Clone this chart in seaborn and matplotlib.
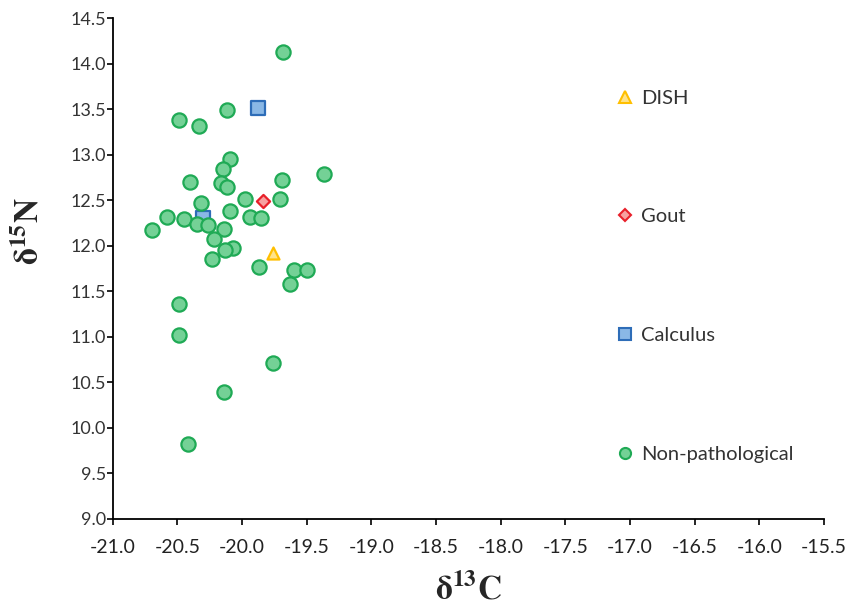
import matplotlib
matplotlib.use("Agg")
import matplotlib.pyplot as plt
import seaborn as sns
import pandas as pd
from matplotlib.ticker import FormatStrFormatter, MultipleLocator

# Values (d13C, d15N)
nonpath_c = [-19.68, -20.12, -20.49, -20.33, -20.09, -20.15, -20.40, -20.16, -20.12,
             -19.69, -19.37, -19.71, -19.98, -20.32, -20.09, -19.94, -19.85, -20.58,
             -20.45, -20.35, -20.26, -20.14, -20.70, -20.22, -20.07, -20.13, -20.23,
             -19.87, -19.60, -19.50, -19.63, -20.49, -20.49, -19.76, -20.14, -20.42]
nonpath_n = [14.13, 13.49, 13.38, 13.32, 12.95, 12.84, 12.70, 12.69, 12.65,
             12.72, 12.79, 12.51, 12.51, 12.47, 12.38, 12.32, 12.30, 12.32,
             12.29, 12.24, 12.23, 12.19, 12.17, 12.08, 11.98, 11.95, 11.85,
             11.77, 11.73, 11.73, 11.58, 11.36, 11.02, 10.71, 10.39, 9.82]
calculus_c = [-19.88, -20.30]
calculus_n = [13.51, 12.30]
gout_c = [-19.84]
gout_n = [12.49]
dish_c = [-19.76]
dish_n = [11.92]

groups = ["Calculus", "Non-pathological", "Gout", "DISH"]
legend_order = ["DISH", "Gout", "Calculus", "Non-pathological"]

df = pd.concat([
    pd.DataFrame({"c": calculus_c, "n": calculus_n, "group": "Calculus"}),
    pd.DataFrame({"c": nonpath_c, "n": nonpath_n, "group": "Non-pathological"}),
    pd.DataFrame({"c": gout_c, "n": gout_n, "group": "Gout"}),
    pd.DataFrame({"c": dish_c, "n": dish_n, "group": "DISH"}),
])

styles = {
    "DISH": dict(marker="^", facecolor="#ffe38a", edgecolor="#ffbf00", s=75),
    "Gout": dict(marker="D", facecolor="#f7a1a1", edgecolor="#e8202a", s=45),
    "Calculus": dict(marker="s", facecolor="#8ab8e6", edgecolor="#2e6db8", s=105),
    "Non-pathological": dict(marker="o", facecolor="#74d196", edgecolor="#1faa55", s=105),
}

sns.set_style("ticks")
plt.rcParams["axes.unicode_minus"] = False
plt.rcParams["mathtext.fontset"] = "stix"

fig, ax = plt.subplots(figsize=(8.61, 6.11), dpi=100)
fig.subplots_adjust(left=0.131, right=0.957, top=0.970, bottom=0.151)

handles = {}
for g in groups:
    st = styles[g]
    sub = df[df["group"] == g]
    sns.scatterplot(data=sub, x="c", y="n", marker=st["marker"], s=st["s"],
                    color=st["facecolor"], edgecolor=st["edgecolor"], linewidth=1.6,
                    ax=ax, zorder=3, label=g, legend=False)
    handles[g] = plt.Line2D([], [], linestyle="none", marker=st["marker"],
                            markerfacecolor=st["facecolor"], markeredgecolor=st["edgecolor"],
                            markeredgewidth=1.5, markersize=8 if st["marker"] != "D" else 6.5)

ax.set_xlim(-21.0, -15.5)
ax.set_ylim(9.0, 14.5)
ax.xaxis.set_major_locator(MultipleLocator(0.5))
ax.yaxis.set_major_locator(MultipleLocator(0.5))
ax.xaxis.set_major_formatter(FormatStrFormatter("%.1f"))
ax.yaxis.set_major_formatter(FormatStrFormatter("%.1f"))
ax.tick_params(axis="x", direction="out", length=4.5, width=1.2, color="black", pad=10)
ax.tick_params(axis="y", direction="out", length=4, width=1.2, color="black", pad=1)
for lab in ax.get_xticklabels():
    lab.set_fontfamily("Lato")
    lab.set_fontsize(14)
    lab.set_color("#222222")
for lab in ax.get_yticklabels():
    lab.set_fontfamily("Lato")
    lab.set_fontsize(13)
    lab.set_color("#333333")
for sp in ["top", "right"]:
    ax.spines[sp].set_visible(False)
for sp in ["left", "bottom"]:
    ax.spines[sp].set_linewidth(1.3)
    ax.spines[sp].set_color("black")

ax.set_xlabel(r"$\mathbf{\delta^{13}C}$", fontsize=24)
ax.set_ylabel(r"$\mathbf{\delta^{15}N}$", fontsize=24)
ax.xaxis.set_label_coords(0.5, -0.108)
ax.yaxis.set_label_coords(-0.095, 0.575)

leg = ax.legend([handles[g] for g in legend_order], legend_order, frameon=False,
                loc="upper left", bbox_to_anchor=(0.683, 0.894), labelspacing=5.05,
                handlelength=0.8, handletextpad=0.4, prop={"family": "Lato", "size": 14.5})
for t in leg.get_texts():
    t.set_color("#333333")

fig.savefig("out.png", dpi=100)
